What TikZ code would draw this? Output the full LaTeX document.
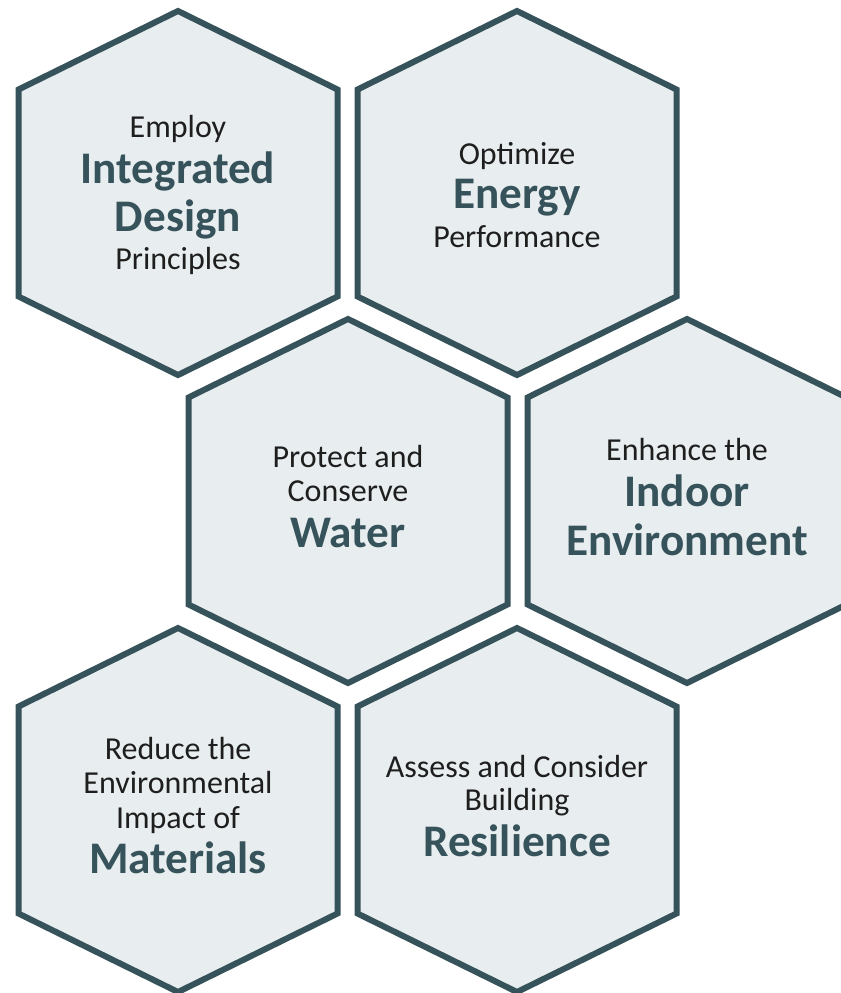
\documentclass[tikz,border=0pt]{standalone}
\usepackage{fontspec}
\setmainfont{Carlito}

\definecolor{hexline}{HTML}{36525A}
\definecolor{hexfill}{HTML}{E8EDEF}
\definecolor{hextext}{HTML}{1E1E1E}

% text of a hexagon: fixed gaps between baselines
\newcommand{\hexfont}{\fontsize{16}{0}\selectfont\lineskiplimit=-1000pt\relax}
% bold key word inside a hexagon
\newcommand{\keyword}[1]{{\fontsize{22.6}{0}\bfseries\selectfont\color{hexline}#1}}

\tikzset{
  hexagon/.style={
    draw=hexline,fill=hexfill,line width=3pt,line join=miter,
  },
  hextitle/.style={
    align=center,text=hextext,inner sep=0pt,font=\hexfont,
  }
}

\begin{document}
\begin{tikzpicture}[x=0.5pt,y=-0.5pt]
    \useasboundingbox (0,0) rectangle (841,993);
    \clip (0,0) rectangle (841,993);

    \foreach \n/\x/\y in {design/178/193, energy/517/193, water/348/501,
                          indoor/687/501, materials/178/810, resilience/517/810}
      \coordinate (\n) at (\x,\y);

    \foreach \n in {design,energy,water,indoor,materials,resilience}
      \draw[hexagon] (\n) ++(0,-182) -- ++(159.5,78.5) -- ++(0,207) -- ++(-159.5,78.5)
                     -- ++(-159.5,-78.5) -- ++(0,-207) -- cycle;

    \node[hextitle] (t-design) at ([yshift=-1pt]design)
      {Employ\\[23pt]\keyword{Integrated}\\[24pt]\keyword{Design}\\[19pt]Principles};
    \node[hextitle] (t-energy) at ([yshift=-1pt]energy)
      {Optimize\\[22pt]\keyword{Energy}\\[19.5pt]Performance};
    \node[hextitle] (t-water) at ([yshift=2pt]water)
      {Protect and\\[17pt]Conserve\\[23pt]\keyword{Water}};
    \node[hextitle] (t-indoor) at ([yshift=2pt]indoor)
      {Enhance the\\[23pt]\keyword{Indoor}\\[24.5pt]\keyword{Environment}};
    \node[hextitle] (t-materials) at ([yshift=2pt]materials)
      {Reduce the\\[17pt]Environmental\\[17.5pt]Impact of\\[22.5pt]\keyword{Materials}};
    \node[hextitle] (t-resilience) at ([yshift=2pt]resilience)
      {Assess and Consider\\[16.5pt]Building\\[23pt]\keyword{Resilience}};
\end{tikzpicture}
\end{document}
